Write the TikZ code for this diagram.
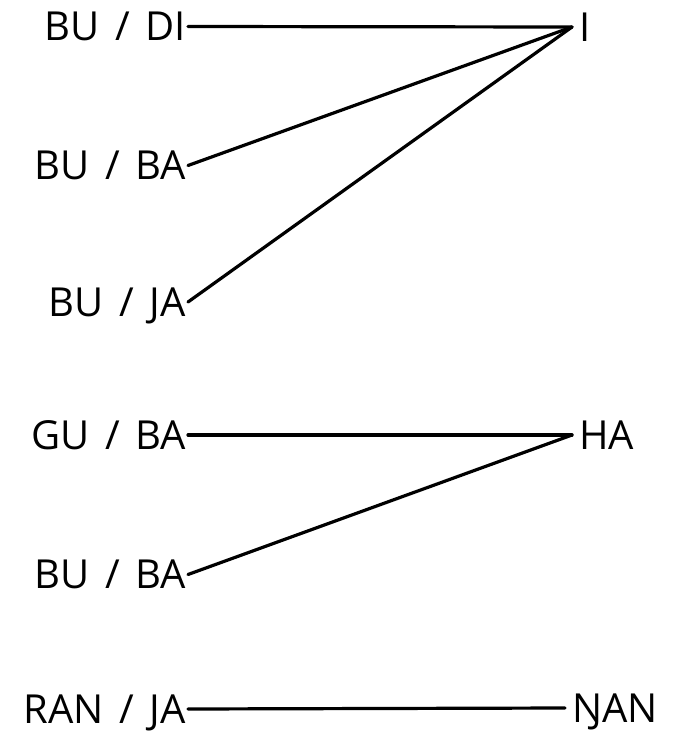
\documentclass[tikz,border=0pt]{standalone}
\usepackage{fontspec}
\setmainfont[WordSpace=1.5]{Open Sans}
\begin{document}
\begin{tikzpicture}[x=1pt,y=-1pt,
  lbl/.style={font=\fontsize{40}{42}\selectfont, inner ysep=0pt, text height=28pt, text depth=0pt},
  lft/.style={lbl, anchor=east, inner xsep=2pt},
  rgt/.style={lbl, anchor=west, inner xsep=7pt},
  link/.style={line width=3.2pt, line cap=round}]
\useasboundingbox (0,0) rectangle (682,734);
\node[lft] (l1) at (188,26.5) {BU / DI};
\node[lft] (l2) at (188,165.5) {BU / BA};
\node[lft] (l3) at (188,302) {BU / JA};
\node[lft] (l4) at (188,435) {GU / BA};
\node[lft] (l5) at (188,574.5) {BU / BA};
\node[lft] (l6) at (188,709) {RAN / JA};
\node[rgt] (r1) at (572,27) {I};
\node[rgt] (r2) at (572,435) {HA};
\node[rgt] (r3) at (565,708) {ŊAN};
\draw[link] (l1.east) -- (r1.west);
\draw[link] (l2.east) -- (r1.west);
\draw[link] (l3.east) -- (r1.west);
\draw[link] (l4.east) -- (r2.west);
\draw[link] (l5.east) -- (r2.west);
\draw[link] (l6.east) -- (r3.west);
\end{tikzpicture}
\end{document}
